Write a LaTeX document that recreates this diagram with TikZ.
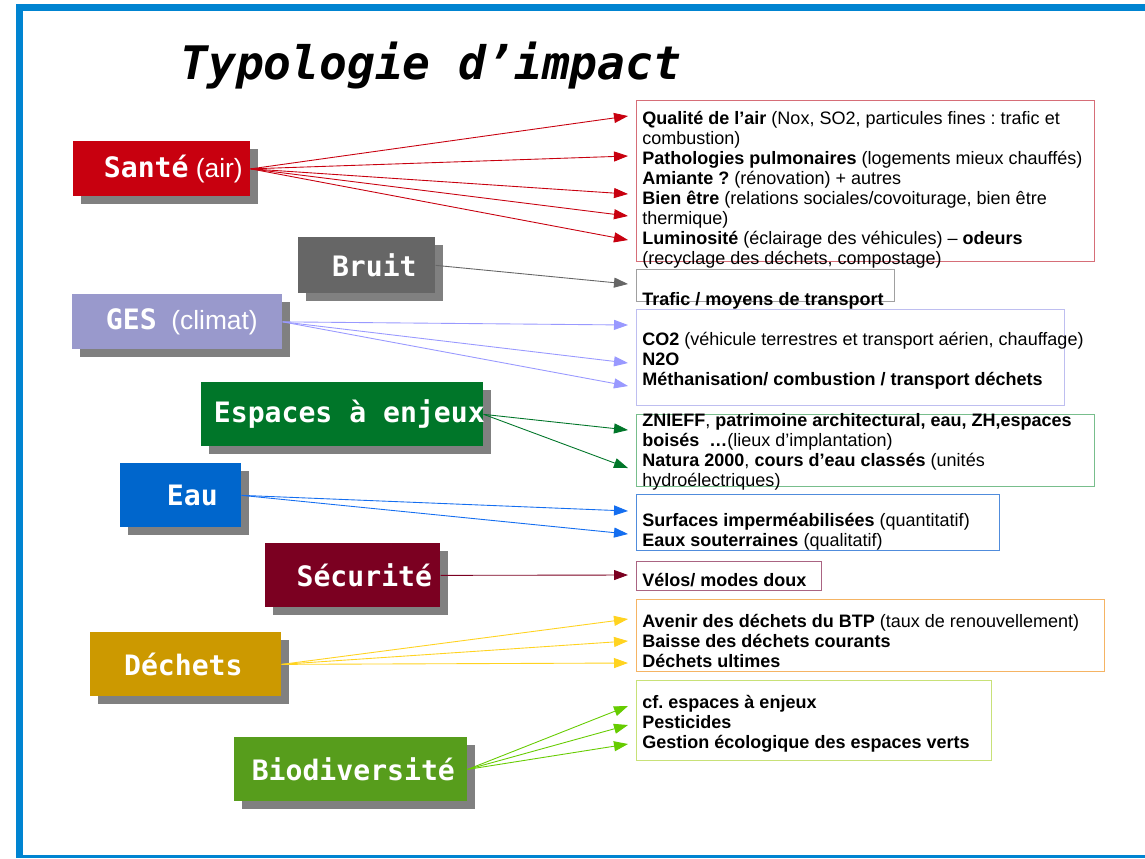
\documentclass[tikz,border=0pt]{standalone}
\usepackage{fontspec}
\setmainfont{Liberation Sans}
\newfontfamily\monofont{DejaVu Sans Mono}
\newfontfamily\notefont{Liberation Sans}
\usetikzlibrary{arrows.meta, calc, shadows, positioning}
\definecolor{frameblue}{RGB}{0,132,209}
\definecolor{shade}{RGB}{128,128,128}
\definecolor{santered}{RGB}{200,0,15}
\definecolor{bruitgray}{RGB}{102,102,102}
\definecolor{gesfill}{RGB}{153,153,204}
\definecolor{gesline}{RGB}{153,153,255}
\definecolor{espgreen}{RGB}{0,118,41}
\definecolor{eaufill}{RGB}{0,102,204}
\definecolor{eauline}{RGB}{20,110,240}
\definecolor{secred}{RGB}{123,0,33}
\definecolor{decfill}{RGB}{204,153,0}
\definecolor{decline}{RGB}{255,211,32}
\definecolor{biofill}{RGB}{87,157,28}
\definecolor{bioline}{RGB}{102,204,0}
\definecolor{santebox}{RGB}{214,110,120}
\definecolor{bruitbox}{RGB}{160,160,160}
\definecolor{gesbox}{RGB}{190,190,240}
\definecolor{espbox}{RGB}{120,190,140}
\definecolor{eaubox}{RGB}{80,140,220}
\definecolor{secbox}{RGB}{170,100,130}
\definecolor{decbox}{RGB}{245,180,100}
\definecolor{biobox}{RGB}{200,225,120}
\newcommand{\catnote}[1]{{\notefont\mdseries\fontsize{15}{18}\selectfont#1}}
\frenchspacing

\begin{document}
\begin{tikzpicture}[
    cat/.style={fill=#1, rectangle, anchor=north west, inner sep=0pt,
        drop shadow={shadow xshift=0.16cm, shadow yshift=-0.16cm, fill=shade, opacity=1}},
    cattext/.style={text=white, inner sep=0pt, font=\monofont\bfseries\fontsize{16}{18}\selectfont},
    impact/.style={draw=#1, rectangle, anchor=north west, inner sep=0pt, line width=0.6pt},
    impacttext/.style={anchor=base west, align=left, inner sep=0pt, font=\fontsize{10.25}{11.38}\selectfont},
    link/.style={draw=#1, line width=0.5pt, -{Triangle[length=0.28cm, width=0.2cm]}}
]
    \useasboundingbox (0,0) rectangle (22.9,-17.16);
    % frame
    \fill[frameblue] (0.32,-0.08) rectangle (22.9,-17.16);
    \fill[white] (0.46,-0.22) rectangle (22.9,-17.10);
    \node[anchor=base west, inner sep=0pt, font=\monofont\bfseries\itshape\fontsize{26.3}{30}\selectfont] (title) at (3.6,-1.58) {Typologie d’impact};

    % categories
    \node[cat=santered, minimum width=3.54cm, minimum height=1.10cm,
        label={[cattext, xshift=0.23cm]center:Santé\catnote{\ (air)}}] (sante) at (1.46,-2.82) {};
    \node[cat=bruitgray, minimum width=2.74cm, minimum height=1.12cm,
        label={[cattext, xshift=0.15cm]center:Bruit}] (bruit) at (5.96,-4.74) {};
    \node[cat=gesfill, minimum width=4.20cm, minimum height=1.10cm,
        label={[cattext, xshift=0.09cm]center:GES\catnote{\ \ (climat)}}] (ges) at (1.44,-5.88) {};
    \node[cat=espgreen, minimum width=5.64cm, minimum height=1.28cm,
        label={[cattext, xshift=0.14cm]center:Espaces à enjeux}] (espaces) at (4.02,-7.64) {};
    \node[cat=eaufill, minimum width=2.42cm, minimum height=1.28cm,
        label={[cattext, xshift=0.23cm]center:Eau}] (eau) at (2.40,-9.26) {};
    \node[cat=secred, minimum width=3.50cm, minimum height=1.28cm,
        label={[cattext, xshift=0.23cm]center:Sécurité}] (securite) at (5.30,-10.86) {};
    \node[cat=decfill, minimum width=3.82cm, minimum height=1.28cm,
        label={[cattext, xshift=-0.05cm]center:Déchets}] (dechets) at (1.80,-12.64) {};
    \node[cat=biofill, minimum width=4.66cm, minimum height=1.28cm,
        label={[cattext, xshift=0.05cm]center:Biodiversité}] (biodiv) at (4.68,-14.74) {};

    % impact boxes
    \node[impact=santebox, minimum width=9.16cm, minimum height=3.22cm] (rsante) at (12.72,-2.00) {};
    \node[impact=bruitbox, minimum width=5.16cm, minimum height=0.64cm] (rbruit) at (12.72,-5.38) {};
    \node[impact=gesbox, minimum width=8.56cm, minimum height=1.92cm] (rges) at (12.72,-6.18) {};
    \node[impact=espbox, minimum width=9.16cm, minimum height=1.44cm] (respaces) at (12.72,-8.28) {};
    \node[impact=eaubox, minimum width=7.26cm, minimum height=1.12cm] (reau) at (12.72,-9.88) {};
    \node[impact=secbox, minimum width=3.70cm, minimum height=0.58cm] (rsecurite) at (12.72,-11.22) {};
    \node[impact=decbox, minimum width=9.36cm, minimum height=1.44cm] (rdechets) at (12.72,-11.98) {};
    \node[impact=biobox, minimum width=7.10cm, minimum height=1.60cm] (rbiodiv) at (12.72,-13.60) {};

    % texts, placed by the baseline of their last line
    \node[impacttext] (tsante) at (12.84,-5.28) {\textbf{Qualité de l’air} (Nox, SO2, particules fines : trafic et\\
        combustion)\\
        \textbf{Pathologies pulmonaires} (logements mieux chauffés)\\
        \textbf{Amiante ?} (rénovation) + autres\\
        \textbf{Bien être} (relations sociales/covoiturage, bien être\\
        thermique)\\
        \textbf{Luminosité} (éclairage des véhicules) – \textbf{odeurs}\\
        (recyclage des déchets, compostage)};
    \node[impacttext] (tbruit) at (12.84,-6.10) {\textbf{Trafic / moyens de transport}};
    \node[impacttext] (tges) at (12.84,-7.70) {\textbf{CO2} (véhicule terrestres et transport aérien, chauffage)\\
        \textbf{N2O}\\
        \textbf{Méthanisation/ combustion / transport déchets}};
    \node[impacttext] (tespaces) at (12.84,-9.72) {\textbf{ZNIEFF}, \textbf{patrimoine architectural, eau, ZH,espaces}\\
        \textbf{boisés \ …}(lieux d’implantation)\\
        \textbf{Natura 2000}, \textbf{cours d’eau classés} (unités\\
        hydroélectriques)};
    \node[impacttext] (teau) at (12.84,-10.92) {\textbf{Surfaces imperméabilisées} (quantitatif)\\
        \textbf{Eaux souterraines} (qualitatif)};
    \node[impacttext] (tsecurite) at (12.84,-11.72) {\textbf{Vélos/ modes doux}};
    \node[impacttext] (tdechets) at (12.84,-13.34) {\textbf{Avenir des déchets du BTP} (taux de renouvellement)\\
        \textbf{Baisse des déchets courants}\\
        \textbf{Déchets ultimes}};
    \node[impacttext] (tbiodiv) at (12.84,-14.96) {\textbf{cf. espaces à enjeux}\\
        \textbf{Pesticides}\\
        \textbf{Gestion écologique des espaces verts}};

    % arrow ends
    \coordinate (s1) at (12.56,-2.32);
    \coordinate (s2) at (12.56,-3.12);
    \coordinate (s3) at (12.56,-3.88);
    \coordinate (s4) at (12.56,-4.32);
    \coordinate (s5) at (12.56,-4.80);
    \coordinate (b1) at (12.56,-5.68);
    \coordinate (g1) at (12.56,-6.50);
    \coordinate (g2) at (12.56,-7.26);
    \coordinate (g3) at (12.56,-7.72);
    \coordinate (e1) at (12.56,-8.60);
    \coordinate (e2) at (12.56,-9.36);
    \coordinate (w1) at (12.56,-10.22);
    \coordinate (w2) at (12.56,-10.68);
    \coordinate (v1) at (12.56,-11.50);
    \coordinate (d1) at (12.56,-12.38);
    \coordinate (d2) at (12.56,-12.82);
    \coordinate (d3) at (12.56,-13.26);
    \coordinate (n1) at (12.56,-14.12);
    \coordinate (n2) at (12.56,-14.50);
    \coordinate (n3) at (12.56,-14.88);

    % arrows
    \foreach \e in {s1,s2,s3,s4,s5} \draw[link=santered] (sante.east) -- (\e);
    \draw[link=bruitgray] (bruit.east) -- (b1);
    \foreach \e in {g1,g2,g3} \draw[link=gesline] (ges.east) -- (\e);
    \foreach \e in {e1,e2} \draw[link=espgreen] (espaces.east) -- (\e);
    \foreach \e in {w1,w2} \draw[link=eauline] (eau.east) -- (\e);
    \draw[link=secred] (securite.east) -- (v1);
    \foreach \e in {d1,d2,d3} \draw[link=decline] (dechets.east) -- (\e);
    \foreach \e in {n1,n2,n3} \draw[link=bioline] (biodiv.east) -- (\e);
\end{tikzpicture}
\end{document}
